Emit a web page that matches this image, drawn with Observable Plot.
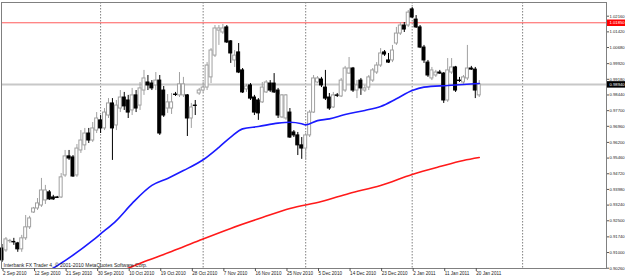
<!DOCTYPE html>
<html><head><meta charset="utf-8">
<script src="https://cdn.jsdelivr.net/npm/d3@7"></script>
<script src="https://cdn.jsdelivr.net/npm/@observablehq/plot@0.6"></script>
<style>html,body{margin:0;padding:0;background:#fff}svg{display:block}</style>
</head><body><div id="chart"></div>
<script>
const opens = [0.9119,0.9110,0.9153,0.9150,0.9143,0.9115,0.9167,0.9219,0.9289,0.9308,0.9322,0.9346,0.9384,0.9360,0.9360,0.9360,0.9464,0.9554,0.9549,0.9464,
0.9582,0.9606,0.9662,0.9629,0.9676,0.9724,0.9686,0.9747,0.9804,0.9700,0.9780,0.9832,0.9818,0.9771,0.9842,0.9794,0.9865,0.9903,0.9898,0.9889,
0.9912,0.9865,0.9780,0.9780,0.9846,0.9842,0.9842,0.9842,0.9733,0.9794,0.9851,0.9865,0.9879,0.9927,1.0030,1.0148,1.0139,1.0163,1.0097,1.0007,
1.0045,0.9960,0.9870,0.9889,0.9832,0.9818,0.9809,0.9856,0.9898,0.9898,0.9865,0.9738,0.9733,0.9761,0.9667,0.9653,0.9606,0.9591,0.9653,0.9761,
0.9903,0.9917,0.9879,0.9832,0.9785,0.9842,0.9837,0.9865,0.9945,0.9969,0.9865,0.9912,0.9865,0.9879,0.9912,0.9950,0.9983,1.0045,1.0007,1.0007,
1.0087,1.0134,1.0172,1.0172,1.0248,1.0200,1.0163,1.0068,0.9997,0.9922,0.9936,0.9950,0.9945,0.9818,0.9950,0.9974,0.9912,0.9903,0.9922,0.9969,
0.9964,0.9842];
const highs = [0.9138,0.9171,0.9162,0.9167,0.9148,0.9181,0.9275,0.9271,0.9313,0.9355,0.9450,0.9417,0.9393,0.9370,0.9365,0.9473,0.9582,0.9582,0.9558,0.9610,
0.9676,0.9686,0.9686,0.9714,0.9761,0.9747,0.9780,0.9827,0.9827,0.9818,0.9865,0.9856,0.9842,0.9875,0.9865,0.9903,0.9960,0.9936,0.9912,0.9950,
0.9936,0.9884,0.9846,0.9851,0.9856,0.9950,0.9927,0.9846,0.9804,0.9818,0.9875,0.9903,0.9997,1.0063,1.0172,1.0172,1.0177,1.0172,1.0101,1.0054,
1.0087,0.9969,0.9894,0.9898,0.9842,0.9827,0.9903,0.9912,0.9912,0.9945,0.9875,0.9846,0.9846,0.9780,0.9676,0.9667,0.9643,0.9662,0.9771,0.9936,
0.9931,0.9927,0.9960,0.9851,0.9856,0.9851,0.9922,0.9979,1.0021,0.9974,0.9912,0.9922,0.9889,0.9936,0.9969,0.9997,1.0063,1.0054,1.0040,1.0078,
1.0163,1.0186,1.0186,1.0243,1.0257,1.0219,1.0172,1.0078,1.0007,0.9974,0.9960,0.9960,0.9950,1.0016,1.0016,0.9979,0.9927,0.9936,1.0078,0.9979,
0.9974,0.9912];
const lows = [0.9053,0.9101,0.9143,0.9134,0.9101,0.9101,0.9157,0.9209,0.9285,0.9299,0.9313,0.9327,0.9346,0.9346,0.9355,0.9355,0.9455,0.9535,0.9455,0.9455,
0.9568,0.9582,0.9615,0.9620,0.9662,0.9662,0.9676,0.9733,0.9535,0.9676,0.9761,0.9771,0.9733,0.9747,0.9761,0.9771,0.9842,0.9865,0.9865,0.9865,
0.9653,0.9738,0.9757,0.9752,0.9837,0.9832,0.9832,0.9648,0.9686,0.9747,0.9842,0.9856,0.9865,0.9898,1.0021,1.0078,1.0130,1.0087,0.9993,0.9974,
0.9945,0.9851,0.9856,0.9818,0.9747,0.9724,0.9804,0.9851,0.9856,0.9851,0.9733,0.9733,0.9724,0.9639,0.9643,0.9558,0.9540,0.9535,0.9643,0.9757,
0.9898,0.9879,0.9818,0.9771,0.9780,0.9832,0.9832,0.9856,0.9941,0.9856,0.9827,0.9842,0.9856,0.9865,0.9903,0.9941,0.9974,1.0026,0.9993,0.9997,
1.0078,1.0125,1.0139,1.0163,1.0205,1.0158,1.0063,0.9993,0.9927,0.9912,0.9927,0.9941,0.9804,0.9809,0.9941,0.9856,0.9903,0.9894,0.9912,0.9960,
0.9827,0.9832];
const closes = [0.9063,0.9162,0.9155,0.9148,0.9115,0.9167,0.9219,0.9261,0.9308,0.9332,0.9393,0.9393,0.9351,0.9351,0.9358,0.9455,0.9554,0.9544,0.9459,0.9591,
0.9629,0.9662,0.9629,0.9686,0.9733,0.9686,0.9761,0.9804,0.9686,0.9794,0.9832,0.9790,0.9761,0.9842,0.9780,0.9875,0.9922,0.9889,0.9875,0.9912,
0.9662,0.9747,0.9809,0.9809,0.9844,0.9894,0.9894,0.9733,0.9785,0.9792,0.9865,0.9879,0.9983,1.0054,1.0158,1.0158,1.0158,1.0092,1.0040,1.0030,
0.9950,0.9856,0.9884,0.9827,0.9761,0.9757,0.9879,0.9903,0.9865,0.9856,0.9747,0.9842,0.9842,0.9643,0.9653,0.9606,0.9591,0.9653,0.9761,0.9922,
0.9922,0.9889,0.9827,0.9780,0.9842,0.9840,0.9912,0.9969,0.9969,0.9865,0.9889,0.9875,0.9875,0.9927,0.9960,0.9983,1.0040,1.0035,0.9997,1.0054,
1.0134,1.0172,1.0153,1.0233,1.0210,1.0163,1.0068,1.0007,0.9936,0.9960,0.9950,0.9945,0.9818,0.9960,0.9974,0.9865,0.9910,0.9927,0.9969,0.9964,
0.9865,0.9894];

const dateLabels = ["2 Sep 2010","12 Sep 2010","21 Sep 2010","30 Sep 2010","10 Oct 2010","19 Oct 2010","28 Oct 2010","7 Nov 2010","16 Nov 2010","25 Nov 2010","5 Dec 2010","14 Dec 2010","23 Dec 2010","2 Jan 2011","11 Jan 2011","20 Jan 2011"];
const dateLabelBars = [0,8,16,24,32,40,48,56,64,72,80,88,96,104,112,120];
const monthGridBars = [25,51,77,104,132];
const priceLabels = ["1.02160","1.01420","1.00680","0.99920","0.99180","0.98440","0.97700","0.96960","0.96200","0.95460","0.94720","0.93980","0.93240","0.92500","0.91740","0.91000","0.90260"];

const blueMABars = [12,16,23,25,29,33,38,42,46,51,55,58,61,65,70,73,76,77,80,83,87,92,96,100,104,107,113,121];
const blueMA = [0.9015,0.9062,0.9157,0.9188,0.9251,0.9332,0.9417,0.9450,0.9487,0.9538,0.9597,0.9645,0.9684,0.9695,0.9711,0.9715,0.9708,0.9703,0.9723,0.9731,0.9752,0.9771,0.9790,0.9826,0.9865,0.9881,0.9889,0.9898];
const redMABars = [31,37,43,50,58,66,73,81,88,96,104,111,117,121];
const redMA = [0.9018,0.9063,0.9105,0.9157,0.9214,0.9265,0.9308,0.9341,0.9379,0.9417,0.9469,0.9506,0.9535,0.9549];

const resistanceLevel = 1.0185;
const copyright = "Interbank FX Trader 4, \u00a9 2001-2010 MetaQuotes Software Corp.";

// ---- build tables
const bars = opens.map((o, i) => ({i, o, h: highs[i], l: lows[i], c: closes[i], up: closes[i] >= o}));
const blueLine = blueMABars.map((b, k) => ({b, v: blueMA[k]}));
const redLine = redMABars.map((b, k) => ({b, v: redMA[k]}));
const lastClose = closes[closes.length - 1];
const priceTicks = priceLabels.map(Number);

const UP = "#a0a0a0", DOWN = "#000000";
const font = "'Liberation Sans', Arial, sans-serif";
const FS = 4.2;

const chart = Plot.plot({
  width: 625, height: 278,
  marginLeft: 1, marginRight: 19, marginTop: 2, marginBottom: 10,
  style: {fontFamily: font, background: "#fff", color: "#000", overflow: "visible"},
  x: {domain: [-0.127, 153.27], axis: null},
  y: {domain: [0.90246, 1.02807], axis: null},
  marks: [
    Plot.ruleX(monthGridBars, {stroke: "#808080", strokeDasharray: "1.5,1.5", strokeWidth: 1}),
    Plot.ruleY([resistanceLevel], {stroke: "#ff5a5a", strokeWidth: 1}),
    Plot.ruleY([lastClose], {stroke: "#c8c8c8", strokeWidth: 2}),
    Plot.ruleX(bars, {x: "i", y1: "l", y2: "h", stroke: d => d.up ? UP : DOWN, strokeWidth: 1}),
    Plot.rect(bars, {x1: d => d.i - 0.38, x2: d => d.i + 0.38, y1: "o", y2: "c",
      fill: d => d.up ? "#ffffff" : DOWN, stroke: d => d.up ? UP : DOWN, strokeWidth: 1}),
    Plot.line(redLine, {x: "b", y: "v", stroke: "#ff1a1a", strokeWidth: 1.6, clip: true, curve: "monotone-x"}),
    Plot.line(blueLine, {x: "b", y: "v", stroke: "#1a1aff", strokeWidth: 1.6, clip: true, curve: "monotone-x"}),
    Plot.frame({stroke: "#808080"}),
    Plot.axisY({anchor: "right", ticks: priceTicks, tickFormat: d => d.toFixed(5), tickSize: 2, tickPadding: 1,
      fontSize: FS, stroke: "#555", fill: "#222"}),
    Plot.axisX({anchor: "bottom", ticks: dateLabelBars, tickFormat: d => dateLabels[dateLabelBars.indexOf(d)],
      tickSize: 3, tickPadding: 0, textAnchor: "start", dx: 1, fontSize: 4.6, stroke: "#555", fill: "#222"}),
    // price tags
    Plot.axisY({anchor: "right", ticks: [resistanceLevel], tickFormat: () => "", tickSize: 19, stroke: "#ff0000", strokeWidth: 6.5}),
    Plot.text([resistanceLevel], {y: d => d, frameAnchor: "right", dx: 3, textAnchor: "start", text: d => d.toFixed(5), fill: "#fff", fontSize: FS}),
    Plot.axisY({anchor: "right", ticks: [lastClose], tickFormat: () => "", tickSize: 19, stroke: "#000", strokeWidth: 6.5}),
    Plot.text([lastClose], {y: d => d, frameAnchor: "right", dx: 3, textAnchor: "start", text: d => d.toFixed(5), fill: "#fff", fontSize: FS}),
    Plot.text([copyright], {frameAnchor: "bottom-left", dx: 2, dy: -2, textAnchor: "start", lineAnchor: "bottom", fontSize: 5, fill: "#222"})
  ]
});
document.getElementById("chart").appendChild(chart);
</script>
</body></html>
